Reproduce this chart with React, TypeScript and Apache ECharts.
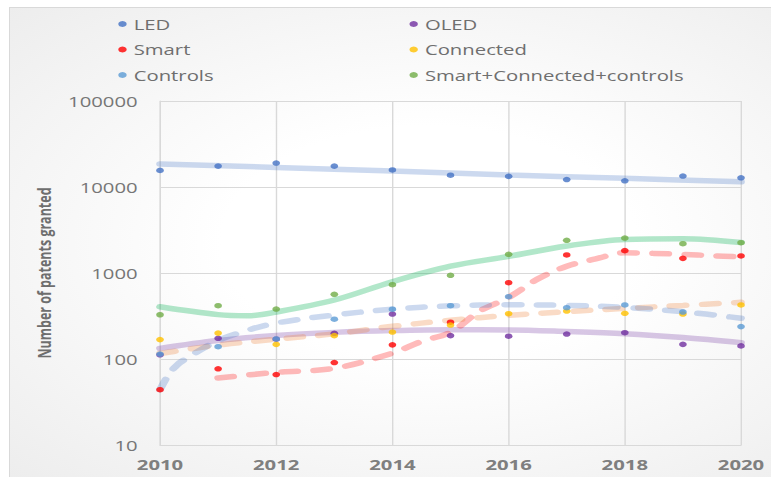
import React, { useEffect, useRef } from "react";
import * as echarts from "echarts";

// ---- data ----
const years = [2010, 2011, 2012, 2013, 2014, 2015, 2016, 2017, 2018, 2019, 2020];
const xTicks = [2010, 2012, 2014, 2016, 2018, 2020];
const yTicks = [10, 100, 1000, 10000, 100000];

const ledValues = [15600, 17500, 19000, 17500, 15800, 13700, 13300, 12200, 11800, 13400, 12800];
const oledValues = [112, 174, 170, 199, 333, 187, 184, 195, 202, 148, 142];
const smartValues = [44, 77, 66, 91, 146, 268, 771, 1620, 1820, 1480, 1580];
const connectedValues = [168, 200, 148, 187, 206, 248, 336, 361, 340, 333, 425];
const controlsValues = [114, 139, 171, 290, 379, 417, 530, 395, 425, 352, 238];
const comboValues = [327, 417, 381, 565, 731, 940, 1650, 2400, 2550, 2190, 2250];

// trend lines as [year, value]
const ledTrend = [[2010, 18500], [2012, 16900], [2014, 15300], [2016, 13800], [2018, 12600], [2020, 11500]];
const oledTrend = [[2010, 133], [2011, 164], [2012, 188], [2013, 204], [2014, 214], [2015, 219], [2016, 218], [2017, 209], [2018, 197], [2019, 178], [2020, 155]];
const smartTrend = [[2011, 60], [2012, 70], [2013, 78], [2014, 117], [2014.5, 160], [2015, 205], [2015.5, 360], [2016, 520], [2016.5, 850], [2017, 1200], [2017.5, 1460], [2018, 1720], [2018.5, 1690], [2019, 1650], [2019.5, 1590], [2020, 1540]];
const connectedTrend = [[2010, 116], [2011, 145], [2012, 170], [2013, 196], [2014, 240], [2015, 282], [2016, 322], [2017, 355], [2018, 388], [2019, 420], [2020, 456]];
const controlsTrend = [[2010, 44], [2010.15, 66], [2010.3, 86], [2010.5, 106], [2010.75, 134], [2011, 165], [2011.5, 215], [2012, 262], [2013, 325], [2014, 379], [2015, 415], [2016, 427], [2017, 420], [2018, 398], [2019, 355], [2020, 298]];
const comboTrend = [[2010, 405], [2011, 328], [2011.5, 318], [2012, 352], [2013, 485], [2014, 792], [2015, 1200], [2016, 1560], [2017, 2060], [2018, 2460], [2019, 2510], [2020, 2260]];

const names = ["LED", "OLED", "Smart", "Connected", "Controls", "Smart+Connected+controls"];
const pointColors = ["#4472c4", "#7030a0", "#ff0000", "#ffc000", "#5b9bd5", "#70ad47"];
const trendColors = [
  "rgba(68,114,196,0.27)",
  "rgba(112,48,160,0.27)",
  "rgba(255,0,0,0.27)",
  "rgba(237,125,49,0.28)",
  "rgba(68,114,196,0.27)",
  "rgba(0,176,80,0.3)",
];

const FONT = "'Open Sans', 'Noto Sans', sans-serif";
const STRETCH = 1.4;
const W0 = 551;

export default function App() {
  const ref = useRef<HTMLDivElement>(null);

  useEffect(() => {
    if (!ref.current) return;
    const chart = echarts.init(ref.current, undefined, { renderer: "svg" });
    const valueSets = [ledValues, oledValues, smartValues, connectedValues, controlsValues, comboValues];
    const trends = [ledTrend, oledTrend, smartTrend, connectedTrend, controlsTrend, comboTrend];
    const dashed = [false, false, true, true, true, false];

    const trendSeries = trends.map((t, i) => ({
      name: names[i] + " trend",
      type: "line",
      data: t,
      smooth: 0.35,
      symbol: "none",
      silent: true,
      z: 2,
      lineStyle: {
        color: trendColors[i],
        width: 5.5,
        type: dashed[i] ? [11, 12] : "solid",
        cap: "round",
      },
    }));
    const pointSeries = valueSets.map((vals, i) => ({
      name: names[i],
      type: "scatter",
      data: years.map((y, k) => [y, vals[k]]),
      symbol: "circle",
      symbolSize: 5.5,
      z: 5,
      itemStyle: { color: pointColors[i] },
    }));

    const legendText = { fontFamily: FONT, fontSize: 14.5, color: "#6f6f6f" };
    chart.setOption({
      animation: false,
      legend: [
        {
          data: [names[0], names[2], names[4]],
          orient: "vertical",
          left: 79.5,
          top: 11.5,
          itemGap: 10.5,
          itemWidth: 6,
          itemHeight: 6,
          icon: "circle",
          textStyle: legendText,
        },
        {
          data: [names[1], names[3], names[5]],
          orient: "vertical",
          left: 287.5,
          top: 11.5,
          itemGap: 10.5,
          itemWidth: 6,
          itemHeight: 6,
          icon: "circle",
          textStyle: legendText,
        },
      ],
      grid: { left: 114.3, right: W0 - 529.3, top: 101, bottom: 32, containLabel: false },
      xAxis: {
        type: "value",
        min: xTicks[0],
        max: xTicks[xTicks.length - 1],
        interval: 2,
        axisLine: { show: true, lineStyle: { color: "#d9d9d9" } },
        axisTick: { show: false },
        splitLine: { show: true, lineStyle: { color: "#d9d9d9", width: 1 } },
        axisLabel: {
          formatter: (v: number) => String(v),
          fontFamily: FONT,
          fontSize: 14.5,
          fontWeight: "bold",
          color: "#7f7f7f",
          margin: 12,
        },
      },
      yAxis: {
        type: "log",
        logBase: 10,
        min: yTicks[0],
        max: yTicks[yTicks.length - 1],
        name: "Number of patents granted",
        nameLocation: "middle",
        nameRotate: 90,
        nameGap: 76,
        nameTextStyle: { fontFamily: FONT, fontSize: 12.5, fontWeight: "bold", color: "#6e6e6e" },
        axisLine: { show: true, lineStyle: { color: "#d9d9d9" } },
        axisTick: { show: false },
        splitLine: { show: true, lineStyle: { color: "#d9d9d9", width: 1 } },
        axisLabel: {
          formatter: (v: number) => String(Math.round(v)),
          fontFamily: FONT,
          fontSize: 14.5,
          color: "#767676",
          margin: 16,
        },
      },
      series: [...trendSeries, ...pointSeries],
    });
    return () => chart.dispose();
  }, []);

  return (
    <div
      style={{
        position: "fixed",
        left: 0,
        top: 0,
        width: 771,
        height: 477,
        background: "#ffffff",
        overflow: "hidden",
      }}
    >
      <div
        style={{
          position: "absolute",
          left: 9,
          top: 7,
          width: 762,
          height: 470,
          boxSizing: "border-box",
          borderTop: "1px solid #d9d9d9",
          borderLeft: "1px solid #d9d9d9",
          background: "radial-gradient(ellipse at 55% 50%, #ffffff 35%, #ededed 100%)",
        }}
      />
      <div
        ref={ref}
        style={{
          position: "absolute",
          left: 0,
          top: 0,
          width: W0,
          height: 477,
          transform: `scaleX(${STRETCH})`,
          transformOrigin: "0 0",
        }}
      />
    </div>
  );
}
